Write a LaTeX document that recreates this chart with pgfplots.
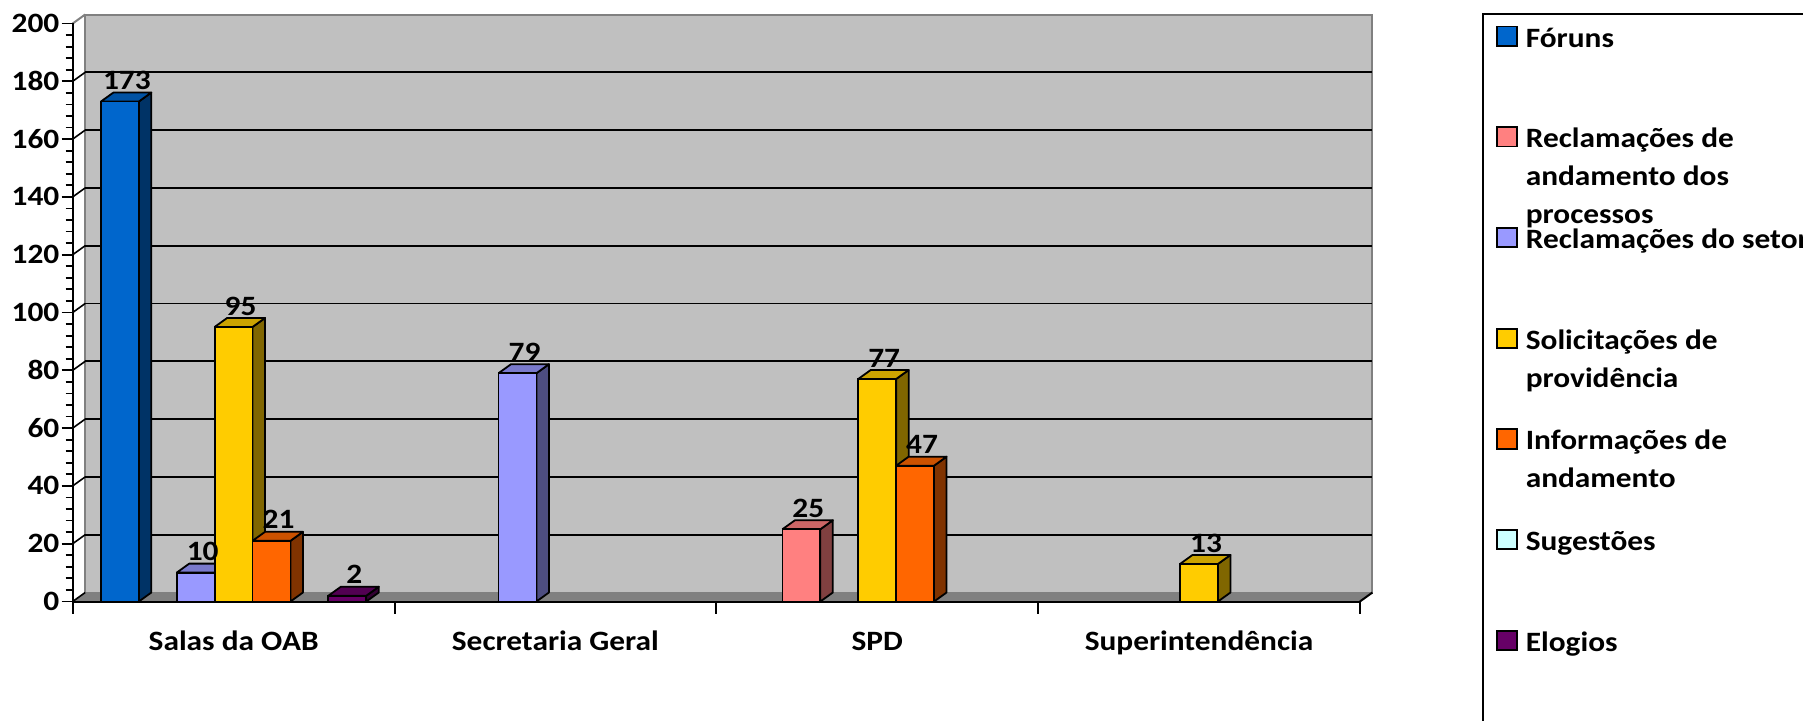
\documentclass[border=0pt]{standalone}
\usepackage{pgfplots}
\pgfplotsset{compat=1.18}
\usepackage{pgfplotstable}
\usepackage{fontspec}
\setmainfont{Carlito}[FakeStretch=1.12]
\newcommand{\legfont}{\bfseries\fontsize{14pt}{19pt}\selectfont}

\definecolor{wall}{HTML}{C0C0C0}
\definecolor{floorc}{HTML}{808080}
\definecolor{aF}{HTML}{0066CC}\definecolor{aT}{HTML}{0052A3}\definecolor{aS}{HTML}{003366}
\definecolor{bF}{HTML}{FF8080}\definecolor{bT}{HTML}{CC6666}\definecolor{bS}{HTML}{804040}
\definecolor{cF}{HTML}{9999FF}\definecolor{cT}{HTML}{7A7ACC}\definecolor{cS}{HTML}{4D4D80}
\definecolor{dF}{HTML}{FFCC00}\definecolor{dT}{HTML}{CCA300}\definecolor{dS}{HTML}{806600}
\definecolor{eF}{HTML}{FF6600}\definecolor{eT}{HTML}{CC5200}\definecolor{eS}{HTML}{803300}
\definecolor{fF}{HTML}{CCFFFF}
\definecolor{gF}{HTML}{660066}\definecolor{gT}{HTML}{520052}\definecolor{gS}{HTML}{330033}

\def\bw{0.1178}\def\dxu{0.0388}\def\dyu{3.11}

% side and top faces of a 3D column: category, slot, value, colour prefix
\newcommand{\barfaces}[4]{%
 \pgfmathsetmacro{\xr}{#1+(#2-3)*\bw+\bw/2}%
 \pgfmathsetmacro{\xl}{\xr-\bw}%
 \pgfmathsetmacro{\xrr}{\xr+\dxu}%
 \pgfmathsetmacro{\xll}{\xl+\dxu}%
 \pgfmathsetmacro{\yt}{#3+\dyu}%
 \edef\tmp{\noexpand\addplot[forget plot, fill=#4S, draw=black, line width=0.9pt, line join=round] coordinates {(\xr,0) (\xr,#3) (\xrr,\yt) (\xrr,\dyu) (\xr,0)};
 \noexpand\addplot[forget plot, fill=#4T, draw=black, line width=0.9pt, line join=round] coordinates {(\xl,#3) (\xr,#3) (\xrr,\yt) (\xll,\yt) (\xl,#3)};}%
 \tmp}

\pgfplotstableread{
cat val
0 173
}\dataA
\pgfplotstableread{
cat val
2 25
}\dataB
\pgfplotstableread{
cat val
0 10
1 79
}\dataC
\pgfplotstableread{
cat val
0 95
2 77
3 13
}\dataD
\pgfplotstableread{
cat val
0 21
2 47
}\dataE
\pgfplotstableread{
cat val
0 2
}\dataG

\begin{document}
\begin{tikzpicture}
\path[use as bounding box] (0,0) rectangle (901.5pt,360pt);
\begin{scope}
\clip (0,0) rectangle (901.5pt,360pt);
\begin{axis}[
 at={(36.35pt,59.25pt)}, anchor=south west,
 x=160.9pt, y=1.445pt,
 xmin=-0.5, xmax=3.5, ymin=0, ymax=200,
 clip=false, axis on top,
 axis x line*=bottom, axis y line*=left,
 axis line style={line width=1pt, black},
 xtick={0,1,2,3},
 xticklabels={Salas da OAB, Secretaria Geral, SPD, Superintendência},
 major x tick style={draw=none},
 ytick={0,20,...,200}, minor y tick num=4,
 tick align=outside, major tick length=5.5pt, minor tick length=3.5pt,
 tick style={line width=0.9pt, black},
 /pgf/number format/assume math mode=true,
 tick label style={font=\bfseries\fontsize{14pt}{16pt}\selectfont},
 yticklabel style={anchor=east, inner sep=0pt, xshift=-1pt},
 xticklabel style={anchor=base, inner sep=0pt, yshift=-19.1pt},
 every node near coord/.append style={inner sep=0pt, text depth=0pt, yshift=5.5pt, font=\bfseries\fontsize{14pt}{16pt}\selectfont, black},
 legend style={at={(1.10541,0.99706)}, anchor=north west, draw=none, fill=none, inner sep=0pt,
   row sep=39.65pt, column sep=4pt, cells={anchor=west}, font=\legfont,
   nodes={inner sep=0pt, text height=9pt, text depth=0pt}},
 legend image code/.code={\draw[#1] (0pt,-3.9pt) rectangle (10pt,5.75pt);},
]
% back wall and floor
\addplot[forget plot, fill=wall, draw=floorc, line width=1pt] coordinates {(-0.4612,3.11) (3.5388,3.11) (3.5388,203.11) (-0.4612,203.11) (-0.4612,3.11)};
\addplot[forget plot, fill=floorc, draw=none] coordinates {(-0.5,0) (3.5,0) (3.5388,3.11) (-0.4612,3.11) (-0.5,0)};
\addplot[forget plot, black, line width=1pt] coordinates {(3.5,0) (3.5388,3.11)};
\addplot[forget plot, floorc, line width=1pt] coordinates {(-0.5,200) (-0.4612,203.11)};
% gridlines on the back wall
\pgfplotsinvokeforeach{20,40,...,180}{%
 \pgfmathsetmacro{\gy}{#1+\dyu}%
 \edef\tmp{\noexpand\addplot[forget plot, black, line width=0.9pt] coordinates {(-0.4612,\gy) (3.5388,\gy)};}\tmp}
\pgfplotsinvokeforeach{0,20,...,180}{%
 \pgfmathsetmacro{\gy}{#1+\dyu}%
 \edef\tmp{\noexpand\addplot[forget plot, black, line width=0.8pt] coordinates {(-0.5,#1) (-0.4612,\gy)};}\tmp}
% category boundary ticks
\pgfplotsinvokeforeach{-0.5,0.5,1.5,2.5,3.5}{%
 \addplot[forget plot, black, line width=1pt] coordinates {(#1,0) (#1,-4.15)};}

% series
\barfaces{0}{0}{173}{a}
\addplot[forget plot, ybar, bar width=\bw, bar shift=-0.3534, fill=aF, draw=black, line width=0.9pt, nodes near coords, every node near coord/.append style={xshift=-53.36pt}] table[x=cat,y=val]{\dataA};
\barfaces{2}{1}{25}{b}
\addplot[forget plot, ybar, bar width=\bw, bar shift=-0.2356, fill=bF, draw=black, line width=0.9pt, nodes near coords, every node near coord/.append style={xshift=-34.41pt}] table[x=cat,y=val]{\dataB};
\barfaces{0}{2}{10}{c}
\barfaces{1}{2}{79}{c}
\addplot[forget plot, ybar, bar width=\bw, bar shift=-0.1178, fill=cF, draw=black, line width=0.9pt, nodes near coords, every node near coord/.append style={xshift=-15.45pt}] table[x=cat,y=val]{\dataC};
\barfaces{0}{3}{95}{d}
\barfaces{2}{3}{77}{d}
\barfaces{3}{3}{13}{d}
\addplot[forget plot, ybar, bar width=\bw, bar shift=0, fill=dF, draw=black, line width=0.9pt, nodes near coords, every node near coord/.append style={xshift=3.5pt}] table[x=cat,y=val]{\dataD};
\barfaces{0}{4}{21}{e}
\barfaces{2}{4}{47}{e}
\addplot[forget plot, ybar, bar width=\bw, bar shift=0.1178, fill=eF, draw=black, line width=0.9pt, nodes near coords, every node near coord/.append style={xshift=22.45pt}] table[x=cat,y=val]{\dataE};
\barfaces{0}{6}{2}{g}
\addplot[forget plot, ybar, bar width=\bw, bar shift=0.3534, fill=gF, draw=black, line width=0.9pt, nodes near coords, every node near coord/.append style={xshift=60.36pt}] table[x=cat,y=val]{\dataG};

% legend
\addlegendimage{fill=aF, draw=black, line width=0.9pt}
\addlegendentry{\legfont Fóruns}
\addlegendimage{fill=bF, draw=black, line width=0.9pt}
\addlegendentry{\legfont\parbox[t]{300pt}{Reclamações de\\andamento dos\\processos}}
\addlegendimage{fill=cF, draw=black, line width=0.9pt}
\addlegendentry{\legfont Reclamações do setor}
\addlegendimage{fill=dF, draw=black, line width=0.9pt}
\addlegendentry{\legfont\parbox[t]{300pt}{Solicitações de\\providência}}
\addlegendimage{fill=eF, draw=black, line width=0.9pt}
\addlegendentry{\legfont\parbox[t]{300pt}{Informações de\\andamento}}
\addlegendimage{fill=fF, draw=black, line width=0.9pt}
\addlegendentry{\legfont Sugestões}
\addlegendimage{fill=gF, draw=black, line width=0.9pt}
\addlegendentry{\legfont Elogios}
\end{axis}
\draw[line width=1pt] (741.5pt,353pt) rectangle (1000pt,-20pt);
\end{scope}
\end{tikzpicture}
\end{document}
